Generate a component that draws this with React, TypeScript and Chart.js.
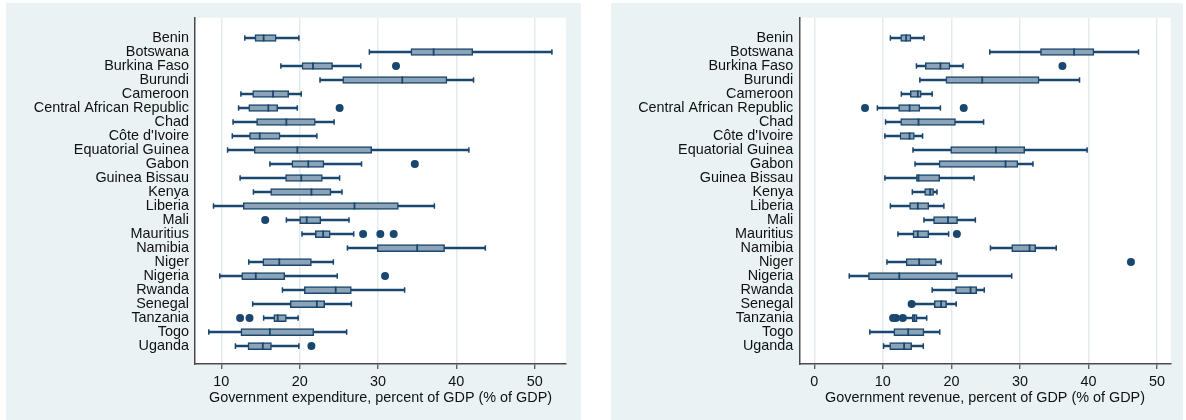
import React, { useEffect, useRef } from "react";
import { Chart, registerables } from "chart.js";

Chart.register(...registerables);

const FONT = '"Liberation Sans", Arial, Helvetica, sans-serif';
const NAVY = "#1a476f";
const BOX_FILL = "rgb(141,163,183)";
const PANEL_BG = "#eaf2f3";
const GRID = "#e3ebee";
const AXIS = "#4a4a4a";
const TEXT = "#111111";

const countries = [
  "Benin", "Botswana", "Burkina Faso", "Burundi", "Cameroon",
  "Central African Republic", "Chad", "Côte d'Ivoire", "Equatorial Guinea",
  "Gabon", "Guinea Bissau", "Kenya", "Liberia", "Mali", "Mauritius",
  "Namibia", "Niger", "Nigeria", "Rwanda", "Senegal", "Tanzania", "Togo", "Uganda",
];

// Government expenditure, % of GDP
const expWhiskerLow = [13.0, 28.9, 17.6, 22.6, 12.5, 12.2, 11.5, 11.4, 10.8, 16.2, 12.4, 14.1, 9.0, 18.3, 20.3, 26.1, 13.5, 9.8, 17.8, 14.0, 15.4, 8.4, 11.8];
const expQ1 = [14.3, 34.2, 20.3, 25.5, 14.0, 13.5, 14.5, 13.6, 14.2, 19.0, 18.2, 16.3, 12.8, 20.0, 22.0, 29.9, 15.3, 12.6, 20.6, 18.8, 16.7, 12.5, 13.4];
const expMedian = [15.4, 37.1, 21.7, 33.1, 16.6, 16.0, 18.3, 14.9, 19.7, 21.1, 20.2, 21.5, 27.0, 20.9, 23.0, 35.0, 17.4, 14.4, 24.6, 22.2, 17.2, 16.2, 15.3];
const expQ3 = [17.0, 42.1, 24.2, 38.8, 18.6, 17.2, 22.0, 17.5, 29.2, 23.1, 22.9, 24.0, 32.6, 22.7, 23.9, 38.5, 21.5, 18.1, 26.6, 23.2, 18.3, 21.8, 16.4];
const expWhiskerHigh = [19.9, 52.2, 27.8, 42.2, 20.2, 19.7, 24.4, 22.2, 41.6, 27.9, 25.1, 25.4, 37.2, 26.3, 26.9, 43.7, 24.3, 24.8, 33.4, 26.6, 19.8, 26.0, 19.9];
const expOutliers = [[], [], [32.3], [], [], [25.1], [], [], [], [34.7], [], [], [], [15.6], [28.1, 30.3, 32.0], [], [], [30.9], [], [], [12.4, 13.6], [], [21.5]];

// Government revenue, % of GDP
const revWhiskerLow = [11.1, 25.6, 14.9, 15.4, 12.7, 9.2, 10.4, 10.3, 14.4, 14.7, 10.3, 14.3, 11.1, 16.0, 12.2, 25.7, 10.6, 5.1, 17.2, 14.5, 13.3, 8.1, 10.1];
const revQ1 = [12.6, 33.0, 16.2, 19.2, 14.0, 12.3, 12.6, 12.5, 19.9, 18.2, 14.9, 16.1, 13.9, 17.4, 14.4, 28.8, 13.4, 7.9, 20.6, 17.5, 14.3, 11.6, 11.0];
const revMedian = [13.4, 37.9, 18.4, 24.5, 15.1, 13.9, 15.2, 13.9, 26.5, 27.9, 15.2, 16.9, 15.1, 19.5, 15.1, 31.4, 15.3, 12.4, 22.8, 18.5, 14.6, 13.7, 13.1];
const revQ3 = [14.1, 40.8, 19.8, 32.8, 15.6, 15.4, 20.6, 14.6, 30.7, 29.7, 18.3, 17.4, 16.7, 20.9, 16.7, 32.3, 17.8, 20.9, 23.7, 19.3, 15.0, 16.0, 14.2];
const revWhiskerHigh = [16.0, 47.3, 21.7, 38.7, 17.2, 18.4, 24.7, 15.8, 39.8, 31.9, 23.3, 17.9, 18.9, 23.5, 19.6, 35.3, 18.5, 28.8, 24.8, 20.7, 16.4, 18.3, 15.9];
const revOutliers = [[], [], [36.2], [], [], [7.4, 21.8], [], [], [], [], [], [], [], [], [20.8], [], [46.2], [], [], [14.2], [11.5, 11.9, 12.9], [], []];

const expTicks = [10, 20, 30, 40, 50];
const revTicks = [0, 10, 20, 30, 40, 50];

type PanelProps = {
  low: number[];
  q1: number[];
  median: number[];
  q3: number[];
  high: number[];
  outliers: number[][];
  ticks: number[];
  xMin: number;
  xMax: number;
  title: string;
  width: number;
  height: number;
  axisWidth: number;
  padRight: number;
};

// white plotting region inside the tinted panel
const plotBackground = {
  id: "plotBackground",
  beforeDraw(chart: any) {
    const { ctx, chartArea } = chart;
    ctx.save();
    ctx.fillStyle = "#ffffff";
    ctx.fillRect(chartArea.left, chartArea.top, chartArea.right - chartArea.left, chartArea.bottom - chartArea.top);
    ctx.restore();
  },
};

function BoxPanel(p: PanelProps) {
  const ref = useRef<HTMLCanvasElement | null>(null);

  useEffect(() => {
    if (!ref.current) return;
    const rows = countries.map((_, i) => i);
    const chart = new Chart(ref.current, {
      type: "bar",
      data: {
        datasets: [
          {
            type: "scatter",
            label: "outliers",
            data: p.outliers.flatMap((vals, i) => vals.map((v) => ({ x: v, y: i }))),
            pointStyle: "circle",
            pointRadius: 4,
            pointBackgroundColor: NAVY,
            pointBorderColor: NAVY,
            pointBorderWidth: 0,
            order: 0,
          } as any,
          {
            type: "scatter",
            label: "median",
            data: rows.map((i) => ({ x: p.median[i], y: i })),
            pointStyle: "line",
            pointRotation: 90,
            pointRadius: 3.5,
            pointBorderColor: NAVY,
            pointBorderWidth: 1.8,
            order: 1,
          } as any,
          {
            type: "bar",
            label: "box",
            indexAxis: "y",
            grouped: false,
            data: rows.map((i) => ({ x: [p.q1[i], p.q3[i]], y: i })),
            backgroundColor: BOX_FILL,
            borderColor: NAVY,
            borderWidth: 1.5,
            borderSkipped: false,
            barThickness: 7,
            order: 2,
          } as any,
          {
            type: "scatter",
            label: "caps",
            data: rows.flatMap((i) => [
              { x: p.low[i], y: i },
              { x: p.high[i], y: i },
            ]),
            pointStyle: "line",
            pointRotation: 90,
            pointRadius: 2.8,
            pointBorderColor: NAVY,
            pointBorderWidth: 1.5,
            order: 3,
          } as any,
          {
            type: "bar",
            label: "whiskers",
            indexAxis: "y",
            grouped: false,
            data: rows.map((i) => ({ x: [p.low[i], p.high[i]], y: i })),
            backgroundColor: NAVY,
            borderWidth: 0,
            barThickness: 1.8,
            order: 4,
          } as any,
        ],
      },
      options: {
        indexAxis: "y",
        responsive: false,
        animation: false,
        devicePixelRatio: 1,
        events: [],
        layout: { padding: { left: 0, right: p.padRight, top: 14.7, bottom: 0 } },
        plugins: { legend: { display: false }, tooltip: { enabled: false } },
        scales: {
          x: {
            type: "linear",
            min: p.xMin,
            max: p.xMax,
            offset: false,
            afterBuildTicks: (s: any) => {
              s.ticks = p.ticks.map((v) => ({ value: v }));
            },
            afterFit: (s: any) => {
              s.height = 56;
            },
            ticks: {
              color: TEXT,
              padding: 4,
              maxRotation: 0,
              autoSkip: false,
              font: { family: FONT, size: 14.4 },
            },
            grid: {
              offset: false,
              color: GRID,
              lineWidth: 1.5,
              drawTicks: true,
              tickLength: 5,
              tickColor: AXIS,
              tickWidth: 1.2,
            },
            border: { display: true, color: AXIS, width: 1.5 },
            title: {
              display: true,
              text: p.title,
              color: TEXT,
              font: { family: FONT, size: 14.4 },
              padding: { top: 0, bottom: 13 },
            },
          },
          y: {
            type: "linear",
            reverse: true,
            min: -1.45,
            max: 23.28,
            offset: false,
            afterBuildTicks: (s: any) => {
              s.ticks = countries.map((_, i) => ({ value: i }));
            },
            afterFit: (s: any) => {
              s.width = p.axisWidth;
            },
            ticks: {
              autoSkip: false,
              padding: 6,
              color: TEXT,
              font: { family: FONT, size: 14.4 },
              callback: (v: any) => countries[v as number] ?? "",
            },
            grid: { display: false, drawTicks: false, offset: false },
            border: { display: true, color: AXIS, width: 1.5 },
          },
        },
      } as any,
      plugins: [plotBackground],
    });
    return () => chart.destroy();
  }, []);

  return <canvas ref={ref} width={p.width} height={p.height} style={{ display: "block" }} />;
}

export default function App() {
  return (
    <div style={{ position: "fixed", left: 0, top: 0, width: 1186, height: 420, background: "#ffffff" }}>
      <div style={{ position: "absolute", left: 6, top: 3, width: 575, height: 417, background: PANEL_BG }}>
        <BoxPanel
          low={expWhiskerLow}
          q1={expQ1}
          median={expMedian}
          q3={expQ3}
          high={expWhiskerHigh}
          outliers={expOutliers}
          ticks={expTicks}
          xMin={6.64}
          xMax={54.0}
          title="Government expenditure, percent of GDP (% of GDP)"
          width={575}
          height={417}
          axisWidth={189}
          padRight={15}
        />
      </div>
      <div style={{ position: "absolute", left: 611, top: 3, width: 572, height: 417, background: PANEL_BG }}>
        <BoxPanel
          low={revWhiskerLow}
          q1={revQ1}
          median={revMedian}
          q3={revQ3}
          high={revWhiskerHigh}
          outliers={revOutliers}
          ticks={revTicks}
          xMin={-2.19}
          xMax={52.0}
          title="Government revenue, percent of GDP (% of GDP)"
          width={572}
          height={417}
          axisWidth={188.3}
          padRight={12.3}
        />
      </div>
    </div>
  );
}
